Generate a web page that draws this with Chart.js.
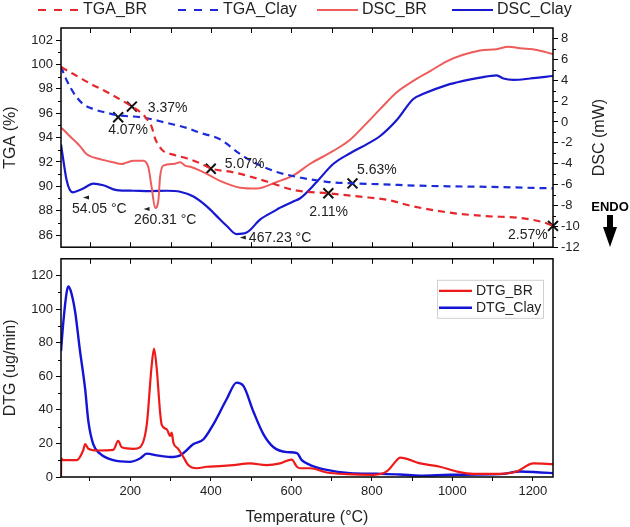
<!DOCTYPE html>
<html>
<head>
<meta charset="utf-8">
<script src="https://cdn.jsdelivr.net/npm/chart.js@4.4.1/dist/chart.umd.min.js"></script>
<style>
  html, body { margin: 0; padding: 0; background: #fff; }
  #wrap { position: relative; width: 630px; height: 527px; overflow: hidden; }
  #top { position: absolute; left: 0; top: 0; width: 630px; height: 258px; }
  #bot { position: absolute; left: 0; top: 248px; width: 630px; height: 279px; }
</style>
</head>
<body>
<div id="wrap">
  <canvas id="top" width="630" height="258"></canvas>
  <canvas id="bot" width="630" height="279"></canvas>
</div>
<script>
// temperature range shared by both panels
var X_MIN = 28, X_MAX = 1250;

// tick values
var tempTicks = [100, 200, 300, 400, 500, 600, 700, 800, 900, 1000, 1100, 1200];
var tgaTicks = [86, 88, 90, 92, 94, 96, 98, 100, 102];
var dscTicks = [-12, -10, -8, -6, -4, -2, 0, 2, 4, 6, 8];
var dtgTicks = [0, 20, 40, 60, 80, 100, 120];

// TGA (%)
var tgaBrT = [28, 60, 100, 150, 204, 232, 245, 253, 262, 270, 282, 307, 340, 373, 402, 456, 539, 605, 692, 771, 837, 903, 1002, 1085, 1168, 1226, 1250];
var tgaBrV = [99.8, 99.2, 98.45, 97.6, 96.55, 95.9, 95.35, 94.9, 93.9, 93.4, 92.9, 92.6, 92.3, 91.9, 91.45, 91.15, 90.4, 89.7, 89.43, 89.15, 88.9, 88.35, 87.8, 87.55, 87.4, 87.05, 86.75];
var tgaClayT = [28, 38, 50, 65, 83, 108, 140, 170, 232, 291, 340, 373, 423, 473, 514, 564, 622, 688, 752, 829, 920, 994, 1100, 1250];
var tgaClayV = [99.85, 99.0, 98.2, 97.4, 96.75, 96.35, 96.05, 95.83, 95.65, 95.2, 94.8, 94.4, 93.86, 92.65, 91.85, 91.18, 90.72, 90.37, 90.24, 90.16, 90.05, 90.0, 89.95, 89.83];

// DSC (mW)
var dscBrT = [28, 34, 50, 75, 92, 125, 158, 179, 190, 208, 232, 245, 253, 262, 270, 274, 282, 307, 324, 336, 353, 390, 423, 473, 514, 564, 605, 646, 704, 746, 780, 820, 862, 903, 945, 986, 1027, 1069, 1110, 1139, 1168, 1210, 1250];
var dscBrV = [-0.55, -0.75, -1.37, -2.31, -3.1, -3.56, -3.87, -4.03, -3.9, -3.72, -3.72, -4.35, -6.22, -8.25, -7.47, -5.28, -4.18, -4.03, -3.87, -4.18, -4.34, -4.97, -5.65, -6.3, -6.38, -5.75, -5.12, -4.03, -2.78, -1.7, -0.4, 1.2, 2.85, 3.93, 4.87, 5.81, 6.43, 6.84, 6.97, 7.21, 7.06, 6.9, 6.5];
var dscClayT = [28, 34, 42, 50, 58, 70, 83, 108, 133, 166, 208, 249, 291, 324, 357, 390, 423, 440, 464, 489, 523, 564, 568, 605, 622, 663, 704, 746, 789, 820, 862, 903, 928, 986, 1027, 1069, 1110, 1127, 1152, 1193, 1250];
var dscClayV = [-2.16, -3.72, -5.59, -6.53, -6.75, -6.6, -6.38, -5.91, -6.06, -6.53, -6.59, -6.62, -6.59, -6.69, -7.15, -8.09, -9.34, -9.97, -10.75, -10.6, -9.34, -8.4, -8.3, -7.62, -7.31, -5.75, -4.03, -3.0, -2.1, -1.37, 0.18, 2.2, 2.69, 3.53, 3.93, 4.25, 4.47, 4.16, 4.03, 4.16, 4.4];

// DTG (ug/min)
var dtgBrT = [28, 28.5, 34, 67, 83, 88, 96, 117, 158, 170, 179, 208, 224, 241, 253, 259, 266, 274, 278, 291, 299, 303, 307, 319, 332, 344, 365, 390, 423, 456, 497, 539, 572, 601, 614, 622, 647, 688, 738, 804, 837, 862, 870, 920, 969, 1011, 1052, 1118, 1160, 1201, 1250];
var dtgBrV = [0, 11, 10, 10, 15.8, 19.6, 16.8, 15.8, 16.2, 21.6, 17.7, 16.8, 17.7, 31.2, 65.9, 76.5, 63.9, 38.9, 31.2, 28.3, 24.5, 26.4, 20.6, 16.8, 11.9, 7.1, 5.2, 6.1, 6.5, 7.1, 8.1, 7.1, 8.1, 10.4, 6.1, 5.2, 5.2, 2.7, 1.7, 1.3, 3.3, 10, 11.6, 8.1, 6.1, 3.3, 1.9, 1.9, 3.3, 8.1, 7.7];
var dtgClayT = [28, 34, 42, 46, 52, 63, 75, 88, 96, 108, 125, 158, 199, 224, 241, 266, 299, 324, 357, 382, 406, 440, 464, 481, 506, 531, 556, 589, 614, 626, 647, 688, 746, 812, 870, 920, 994, 1118, 1168, 1218, 1250];
var dtgClayV = [75, 92.8, 110, 113.6, 111, 98.6, 75.5, 52.4, 33.1, 19.6, 13.9, 10, 9, 11, 13.9, 12.9, 11.9, 12.9, 19.6, 22.5, 31.2, 46.6, 56.2, 54.3, 38.9, 25.4, 17.7, 14.8, 14.2, 10, 7.1, 4.2, 2.3, 1.9, 1.5, 0.8, 1.3, 1.7, 3.3, 2.7, 2.3];

// mass loss marks on the TGA curves
var markT = [204, 170, 400, 752, 692, 1250];
var markV = [96.55, 95.67, 91.44, 90.24, 89.43, 86.75];
var markLabel = ['3.37%', '4.07%', '5.07%', '5.63%', '2.11%', '2.57%'];

// DSC peak notes
var peakT = [54.05, 260.31, 467.23];
var peakV = [-6.7, -8.2, -10.75];
var peakLabel = ['54.05 \u00b0C', '260.31 \u00b0C', '467.23 \u00b0C'];

Chart.defaults.font.family = '"Liberation Sans", Arial, sans-serif';
Chart.defaults.font.size = 13;
Chart.defaults.color = '#222';

function pts(xs, ys) {
    return xs.map(function (x, i) { return {x: x, y: ys[i]}; });
}

function fixTicks(list) {
    return function (s) { s.ticks = list.map(function (v) { return {value: v}; }); };
}

// frame, inward temperature ticks and minor y ticks
var frame = {
    id: 'frame',
    afterDraw: function (chart, args, opts) {
        var ctx = chart.ctx, a = chart.chartArea, xs = chart.scales.x;
        ctx.save();
        ctx.strokeStyle = '#000';
        ctx.lineWidth = 1;
        ctx.beginPath();
        tempTicks.forEach(function (t) {
            var px = Math.round(xs.getPixelForValue(t)) + 0.5;
            if (opts.top) { ctx.moveTo(px, a.top); ctx.lineTo(px, a.top + 5); }
            if (opts.bottom) { ctx.moveTo(px, a.bottom); ctx.lineTo(px, a.bottom - 5); }
        });
        (opts.minor || []).forEach(function (m) {
            var s = chart.scales[m.id];
            for (var v = m.from; v <= m.to; v += m.step) {
                var py = Math.round(s.getPixelForValue(v)) + 0.5;
                if (s.position === 'left') { ctx.moveTo(a.left, py); ctx.lineTo(a.left - 3, py); }
                else { ctx.moveTo(a.right, py); ctx.lineTo(a.right + 3, py); }
            }
        });
        ctx.stroke();
        ctx.lineWidth = 1.5;
        ctx.strokeRect(a.left, a.top, a.right - a.left, a.bottom - a.top);
        ctx.restore();
    }
};

// legend, labels and the ENDO arrow of the upper panel
var topNotes = {
    id: 'topNotes',
    afterDraw: function (chart) {
        var ctx = chart.ctx, a = chart.chartArea, xs = chart.scales.x, yT = chart.scales.yT, yD = chart.scales.yD;
        var legendX = [38, 178, 317, 452];
        ctx.save();
        ctx.textBaseline = 'middle';
        ctx.textAlign = 'left';
        ctx.font = '16px "Liberation Sans", Arial, sans-serif';
        chart.data.datasets.slice(0, 4).forEach(function (ds, i) {
            ctx.strokeStyle = ds.borderColor;
            ctx.lineWidth = ds.borderWidth;
            ctx.setLineDash(ds.borderDash ? [8, 8] : []);
            ctx.beginPath();
            ctx.moveTo(legendX[i], 10);
            ctx.lineTo(legendX[i] + 41, 10);
            ctx.stroke();
            ctx.setLineDash([]);
            ctx.fillStyle = '#222';
            ctx.fillText(ds.label, legendX[i] + 45, 10);
        });

        // right axis title, reading upwards
        ctx.save();
        ctx.translate(600, (a.top + a.bottom) / 2);
        ctx.rotate(-Math.PI / 2);
        ctx.textAlign = 'center';
        ctx.fillText('DSC (mW)', 0, 0);
        ctx.restore();

        // mass loss labels
        var markOff = [[16, 2], [-10, 12.5], [14, -5], [4.5, -13.6], [-19, 19], [-45, 9]];
        ctx.font = '14px "Liberation Sans", Arial, sans-serif';
        markT.forEach(function (t, i) {
            var px = xs.getPixelForValue(t), py = yT.getPixelForValue(markV[i]);
            ctx.fillText(markLabel[i], px + markOff[i][0], py + markOff[i][1]);
        });

        // DSC peak labels with small pointers
        var peakOff = [[0.5, 17.6, 14.5, 5.6], [-20.5, 13, -8, 1.5], [11, 4.3, 5, 3.3]];
        peakT.forEach(function (t, i) {
            var px = xs.getPixelForValue(t), py = yD.getPixelForValue(peakV[i]);
            var o = peakOff[i];
            ctx.fillText(peakLabel[i], px + o[0], py + o[1]);
            var tx = px + o[2], ty = py + o[3];
            ctx.beginPath();
            ctx.moveTo(tx - 3, ty);
            ctx.lineTo(tx + 3, ty - 2);
            ctx.lineTo(tx + 3, ty + 2);
            ctx.closePath();
            ctx.fill();
        });

        // ENDO arrow
        ctx.fillStyle = '#000';
        ctx.textAlign = 'center';
        ctx.font = 'bold 13px "Liberation Sans", Arial, sans-serif';
        ctx.fillText('ENDO', 610, 207);
        ctx.fillRect(607, 215, 6, 12);
        ctx.beginPath();
        ctx.moveTo(603, 227);
        ctx.lineTo(617, 227);
        ctx.lineTo(610, 247);
        ctx.closePath();
        ctx.fill();
        ctx.restore();
    }
};

// boxed legend inside the lower panel
var botLegend = {
    id: 'botLegend',
    afterDraw: function (chart) {
        var ctx = chart.ctx, a = chart.chartArea;
        var x0 = a.right - 116, y0 = a.top + 21;
        ctx.save();
        ctx.fillStyle = '#fff';
        ctx.fillRect(x0, y0, 106, 38);
        ctx.strokeStyle = '#d0d0d0';
        ctx.lineWidth = 1;
        ctx.strokeRect(x0 + 0.5, y0 + 0.5, 106, 38);
        ctx.textBaseline = 'middle';
        ctx.font = '14px "Liberation Sans", Arial, sans-serif';
        chart.data.datasets.forEach(function (ds, i) {
            var y = y0 + 11 + i * 17;
            ctx.strokeStyle = ds.borderColor;
            ctx.lineWidth = ds.borderWidth;
            ctx.beginPath();
            ctx.moveTo(x0 + 2, y);
            ctx.lineTo(x0 + 35, y);
            ctx.stroke();
            ctx.fillStyle = '#222';
            ctx.fillText(ds.label, x0 + 39, y);
        });
        ctx.restore();
    }
};

function yAxis(pos, min, max, list, title, width) {
    return {
        position: pos,
        min: min,
        max: max,
        afterFit: function (s) { s.width = width; },
        afterBuildTicks: fixTicks(list),
        ticks: { padding: 3, font: {size: 13}, color: '#222', callback: function (v) { return String(v); } },
        grid: { drawOnChartArea: false, tickLength: 5, color: '#000' },
        border: { display: false },
        title: { display: !!title, text: title, font: {size: 16}, color: '#222', padding: {top: 1, bottom: 0} }
    };
}

new Chart(document.getElementById('top'), {
    type: 'line',
    data: {
        datasets: [
            { label: 'TGA_BR', data: pts(tgaBrT, tgaBrV), yAxisID: 'yT', borderColor: '#e4282c', borderWidth: 2.2, borderDash: [7, 5] },
            { label: 'TGA_Clay', data: pts(tgaClayT, tgaClayV), yAxisID: 'yT', borderColor: '#1c2cd8', borderWidth: 2.2, borderDash: [7, 5] },
            { label: 'DSC_BR', data: pts(dscBrT, dscBrV), yAxisID: 'yD', borderColor: '#ee5c5c', borderWidth: 2 },
            { label: 'DSC_Clay', data: pts(dscClayT, dscClayV), yAxisID: 'yD', borderColor: '#1818d0', borderWidth: 2.2 },
            { label: 'marks', data: pts(markT, markV), yAxisID: 'yT', showLine: false, clip: false, pointStyle: 'crossRot', pointRadius: 7, borderColor: '#111', borderWidth: 2 }
        ]
    },
    options: {
        responsive: false,
        animation: false,
        layout: { padding: {top: 28, right: 20, bottom: 5, left: 0} },
        elements: { point: {radius: 0}, line: {cubicInterpolationMode: 'monotone', fill: false} },
        plugins: {
            legend: { display: false },
            tooltip: { enabled: false },
            frame: { top: true, bottom: true, minor: [{id: 'yT', from: 87, to: 101, step: 2}, {id: 'yD', from: -11, to: 7, step: 2}] }
        },
        scales: {
            x: { type: 'linear', min: X_MIN, max: X_MAX, display: false },
            yT: yAxis('left', 85, 103, tgaTicks, 'TGA (%)', 61),
            yD: yAxis('right', -12, 9, dscTicks, '', 57)
        }
    },
    plugins: [frame, topNotes]
});

new Chart(document.getElementById('bot'), {
    type: 'line',
    data: {
        datasets: [
            { label: 'DTG_BR', data: pts(dtgBrT, dtgBrV), borderColor: '#ee1a1a', borderWidth: 2.2 },
            { label: 'DTG_Clay', data: pts(dtgClayT, dtgClayV), borderColor: '#1414d6', borderWidth: 2.4 }
        ]
    },
    options: {
        responsive: false,
        animation: false,
        layout: { padding: {top: 5, right: 77, bottom: 0, left: 0} },
        elements: { point: {radius: 0}, line: {cubicInterpolationMode: 'monotone', fill: false} },
        plugins: {
            legend: { display: false },
            tooltip: { enabled: false },
            frame: { top: true, bottom: false, minor: [{id: 'y', from: 10, to: 110, step: 20}] }
        },
        scales: {
            x: {
                type: 'linear',
                min: X_MIN,
                max: X_MAX,
                afterFit: function (s) { s.height = 50; },
                afterBuildTicks: fixTicks(tempTicks),
                ticks: { autoSkip: false, maxRotation: 0, padding: 3, font: {size: 13}, color: '#222',
                    callback: function (v) { return v % 200 === 0 ? String(v) : ''; } },
                grid: { drawOnChartArea: false, tickLength: 4, color: '#000' },
                border: { display: false },
                title: { display: true, text: 'Temperature (\u00b0C)', font: {size: 16}, color: '#222', padding: {top: 0, bottom: 0} }
            },
            y: yAxis('left', 0, 130, dtgTicks, 'DTG (ug/min)', 61)
        }
    },
    plugins: [frame, botLegend]
});
</script>
</body>
</html>
